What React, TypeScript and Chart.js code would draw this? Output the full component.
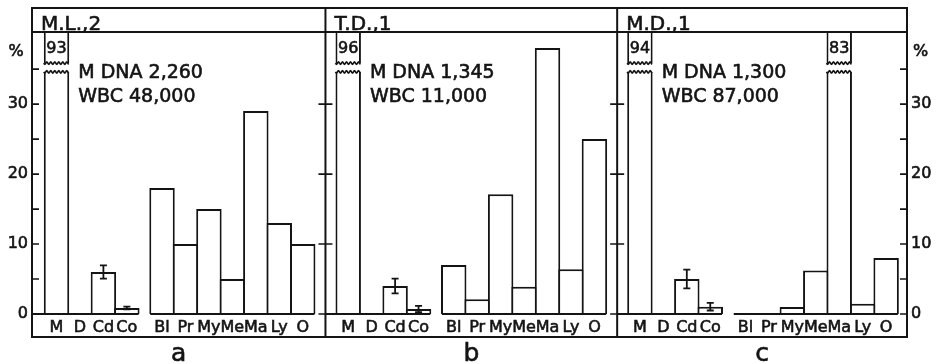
import React, { useEffect, useRef } from "react";
import { Chart, registerables } from "chart.js";

Chart.register(...registerables);

// ---------------- data ----------------
const categories = ["M", "D", "Cd", "Co", "Bl", "Pr", "My", "Me", "Ma", "Ly", "O"];
const panelTitles = ["M.L.,2", "T.D.,1", "M.D.,1"];
const panelLetters = ["a", "b", "c"];
const mDnaLabels = ["M DNA 2,260", "M DNA 1,345", "M DNA 1,300"];
const wbcLabels = ["WBC 48,000", "WBC 11,000", "WBC 87,000"];

const valuesA = [93, 0, 6, 0.85, 18, 10, 15, 5, 29, 13, 10];
const valuesB = [96, 0, 4, 0.7, 7, 2.1, 17.1, 3.9, 38, 6.4, 25];
const valuesC = [94, 0, 5, 1.05, 0, 0, 1, 6.2, 83, 1.45, 8];

const errorsA = [0, 0, 0.95, 0.2, 0, 0, 0, 0, 0, 0, 0];
const errorsB = [0, 0, 1.05, 0.45, 0, 0, 0, 0, 0, 0, 0];
const errorsC = [0, 0, 1.35, 0.55, 0, 0, 0, 0, 0, 0, 0];

const yLabelTicks = [0, 10, 20, 30];
const yAllTicks = [0, 5, 10, 15, 20, 25, 30, 35];
const yMax = 40.3;
const breakRange = [34.6, 35.85];

// ---------------- layout config ----------------
const panels = [valuesA, valuesB, valuesC];
const panelErrors = [errorsA, errorsB, errorsC];
const SECOND_GROUP_START = 4;
const GROUP_GAP = 0.5;
const PANEL_STEP = 12.44;
const X_MIN = -1.045;
const X_MAX = 36.27;
const INK = "#141414";
const FONT = '"DejaVu Sans", sans-serif';
const TEXT_STROKE = 0.6;

const slotPos = (p: number, i: number) =>
  p * PANEL_STEP + i + (i >= SECOND_GROUP_START ? GROUP_GAP : 0);

const allValues = panels.flat();
const allErrors = panelErrors.flat();
const allPositions = panels.flatMap((vals, p) => vals.map((_, i) => slotPos(p, i)));
const dividerValues = [1, 2].map((p) => (slotPos(p - 1, categories.length - 1) + slotPos(p, 0)) / 2);

function wavy(ctx: CanvasRenderingContext2D, l: number, r: number, y: number) {
  ctx.beginPath();
  for (let t = l; t <= r; t += 0.5) {
    const yy = y + Math.sin(((t - l) / 4) * Math.PI * 2) * 1.1;
    if (t === l) ctx.moveTo(t, yy);
    else ctx.lineTo(t, yy);
  }
  ctx.lineWidth = 1.7;
  ctx.strokeStyle = INK;
  ctx.stroke();
}

function text(ctx: CanvasRenderingContext2D, s: string, x: number, y: number) {
  ctx.fillText(s, x, y);
  ctx.strokeText(s, x, y);
}

const figurePlugin = {
  id: "figure",
  afterDatasetsDraw(chart: any) {
    const { ctx, chartArea: ca, scales } = chart;
    const xs = scales.x;
    const ys = scales.y;
    const px = (v: number) => xs.getPixelForValue(v);
    const py = (v: number) => ys.getPixelForValue(v);
    const frameTop = ca.top - 24;
    const frameBottom = ca.bottom + 23;
    const meta = chart.getDatasetMeta(0);
    const bounds = [ca.left, ...dividerValues.map(px), ca.right];

    ctx.save();
    ctx.strokeStyle = INK;
    ctx.fillStyle = INK;
    ctx.lineCap = "butt";

    // broken bars (values beyond the axis top)
    const yHi = py(breakRange[1]);
    const yLo = py(breakRange[0]);
    allValues.forEach((v, i) => {
      if (v <= yMax) return;
      const el = meta.data[i];
      const half = el.width / 2;
      const l = el.x - half;
      const r = el.x + half;
      ctx.fillStyle = "#fff";
      ctx.fillRect(l - 1, yHi, r - l + 2, yLo - yHi);
      wavy(ctx, l, r, yHi);
      wavy(ctx, l, r, yLo);
      ctx.fillStyle = INK;
      ctx.strokeStyle = INK;
      ctx.lineWidth = TEXT_STROKE;
      ctx.font = `16px ${FONT}`;
      ctx.textAlign = "center";
      ctx.textBaseline = "middle";
      text(ctx, String(v), el.x, (ca.top + yHi) / 2 + 1);
    });

    // error bars
    ctx.lineWidth = 1.8;
    allErrors.forEach((e, i) => {
      if (!e) return;
      const el = meta.data[i];
      const v = allValues[i];
      const y1 = py(v - e);
      const y2 = py(v + e);
      ctx.beginPath();
      ctx.moveTo(el.x, y1);
      ctx.lineTo(el.x, y2);
      ctx.moveTo(el.x - 3.5, y1);
      ctx.lineTo(el.x + 3.5, y1);
      ctx.moveTo(el.x - 3.5, y2);
      ctx.lineTo(el.x + 3.5, y2);
      ctx.stroke();
    });

    // baselines
    ctx.lineWidth = 2;
    const y0 = py(0);
    panels.forEach((vals, p) => {
      ctx.beginPath();
      ctx.moveTo(bounds[p], y0);
      ctx.lineTo(px(slotPos(p, SECOND_GROUP_START - 1) + 0.5), y0);
      ctx.moveTo(px(slotPos(p, SECOND_GROUP_START) - 0.5), y0);
      ctx.lineTo(px(slotPos(p, vals.length - 1) + 0.5), y0);
      ctx.stroke();
    });

    // frame
    ctx.lineWidth = 2;
    ctx.strokeRect(ca.left, frameTop, ca.right - ca.left, frameBottom - frameTop);
    ctx.beginPath();
    ctx.moveTo(ca.left, ca.top);
    ctx.lineTo(ca.right, ca.top);
    dividerValues.forEach((d) => {
      const xx = px(d);
      ctx.moveTo(xx, frameTop);
      ctx.lineTo(xx, frameBottom);
    });
    ctx.stroke();

    // ticks
    ctx.lineWidth = 1.7;
    ctx.beginPath();
    yAllTicks.forEach((v) => {
      const yy = py(v);
      ctx.moveTo(ca.left, yy);
      ctx.lineTo(ca.left + 7, yy);
      ctx.moveTo(ca.right - 7, yy);
      ctx.lineTo(ca.right, yy);
    });
    dividerValues.forEach((d) => {
      const xx = px(d);
      yLabelTicks.forEach((v) => {
        const yy = py(v);
        ctx.moveTo(xx - 7, yy);
        ctx.lineTo(xx + 7, yy);
      });
    });
    ctx.stroke();

    ctx.fillStyle = INK;
    ctx.strokeStyle = INK;
    ctx.lineWidth = TEXT_STROKE;

    // titles
    ctx.textBaseline = "alphabetic";
    ctx.textAlign = "left";
    ctx.font = `20px ${FONT}`;
    panelTitles.forEach((t, p) => text(ctx, t, bounds[p] + 9, ca.top - 2));

    // annotations
    ctx.font = `19px ${FONT}`;
    panels.forEach((_, p) => {
      const xx = px(slotPos(p, 0) + 0.5) + 10;
      text(ctx, mDnaLabels[p], xx, ca.top + 46);
      text(ctx, wbcLabels[p], xx, ca.top + 70);
    });

    // percent signs
    ctx.font = `16px ${FONT}`;
    ctx.textBaseline = "middle";
    ctx.textAlign = "center";
    text(ctx, "%", ca.left - 16, ca.top + 20);
    ctx.textAlign = "left";
    text(ctx, "%", ca.right + 6, ca.top + 20);

    // panel letters
    ctx.font = `25px ${FONT}`;
    ctx.textAlign = "center";
    ctx.textBaseline = "alphabetic";
    panelLetters.forEach((t, p) => text(ctx, t, (bounds[p] + bounds[p + 1]) / 2, frameBottom + 24));

    ctx.restore();
  },
};

const yAxisCommon = (position: "left" | "right", width: number) => ({
  type: "linear" as const,
  position,
  min: 0,
  max: yMax,
  grid: { display: false, drawTicks: false },
  border: { display: false },
  afterBuildTicks: (s: any) => {
    s.ticks = yLabelTicks.map((v) => ({ value: v }));
  },
  afterFit: (s: any) => {
    s.width = width;
  },
  ticks: {
    padding: 4,
    color: INK,
    textStrokeColor: INK,
    textStrokeWidth: TEXT_STROKE,
    font: { family: FONT, size: 16 },
    callback: (v: any) => String(v),
  },
});

export default function App() {
  const canvasRef = useRef<HTMLCanvasElement | null>(null);

  useEffect(() => {
    if (!canvasRef.current) return;
    const chart = new Chart(canvasRef.current, {
      type: "bar",
      data: {
        datasets: [
          {
            data: allPositions.map((x, i) => ({ x, y: allValues[i] })),
            backgroundColor: "#ffffff",
            borderColor: INK,
            borderWidth: 2,
            borderSkipped: "start",
            barPercentage: 1.085,
            categoryPercentage: 1,
            inflateAmount: 0,
            clip: 0,
          } as any,
        ],
      },
      options: {
        animation: false,
        responsive: false,
        events: [],
        layout: { padding: { top: 32, left: 0, right: 0, bottom: 0 } },
        plugins: { legend: { display: false }, tooltip: { enabled: false }, title: { display: false } },
        scales: {
          x: {
            type: "linear",
            offset: false,
            min: X_MIN,
            max: X_MAX,
            grid: { display: false, drawTicks: false, offset: false },
            border: { display: false },
            afterBuildTicks: (s: any) => {
              s.ticks = allPositions.map((v) => ({ value: v }));
            },
            afterFit: (s: any) => {
              s.height = 50;
            },
            ticks: {
              autoSkip: false,
              maxRotation: 0,
              minRotation: 0,
              padding: 4,
              color: INK,
              textStrokeColor: INK,
              textStrokeWidth: TEXT_STROKE,
              font: { family: FONT, size: 16 },
              callback: (_v: any, i: number) => categories[i % categories.length],
            },
          },
          y: yAxisCommon("left", 32),
          y2: yAxisCommon("right", 30),
        } as any,
      },
      plugins: [figurePlugin],
    });
    return () => chart.destroy();
  }, []);

  return (
    <div style={{ position: "absolute", left: 0, top: 0, width: 937, height: 364, background: "#fff" }}>
      <canvas ref={canvasRef} width={937} height={364} style={{ display: "block" }} />
    </div>
  );
}
